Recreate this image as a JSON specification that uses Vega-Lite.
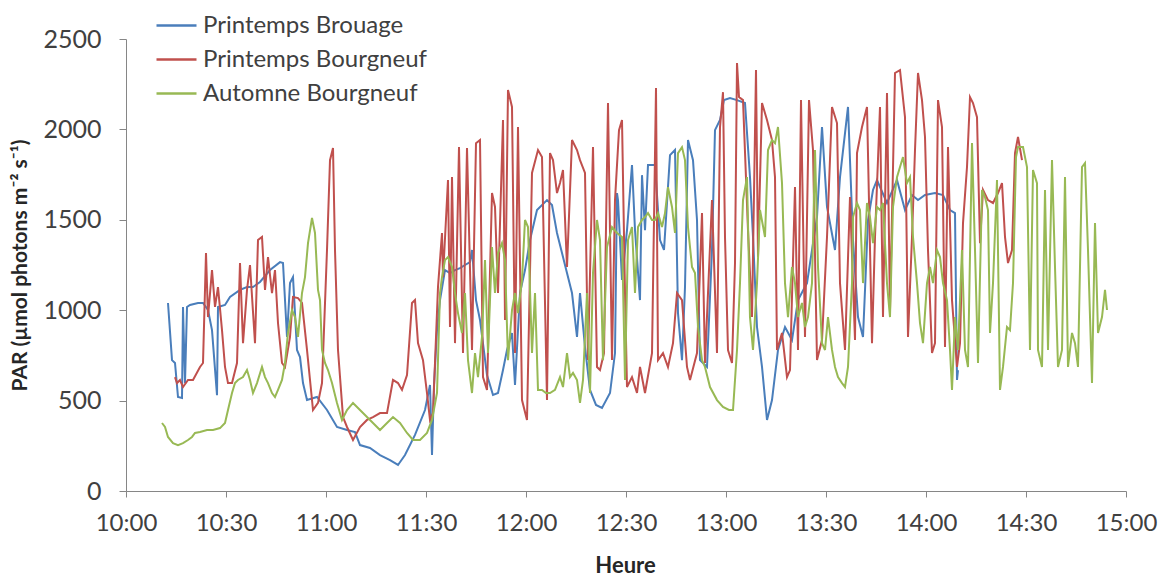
{
"$schema": "https://vega.github.io/schema/vega-lite/v6.json",
"width": 1000, "height": 452,
"autosize": {"type": "none"},
"padding": {"left": 126, "top": 39, "right": 35, "bottom": 86},
"background": "white",
"config": {"view": {"stroke": null}, "font": "Lato"},
"datasets": {
"brouage": [
{"min":12.6,"PAR":1040},{"min":13.8,"PAR":724},{"min":14.7,"PAR":708},{"min":15.6,"PAR":520},{"min":16.8,"PAR":514},{"min":17.1,"PAR":1018},{"min":17.7,"PAR":597},{"min":18.3,"PAR":1018},{"min":19.2,"PAR":1029},{"min":21.6,"PAR":1040},{"min":23.1,"PAR":1040},{"min":24.6,"PAR":1001},{"min":25.8,"PAR":890},{"min":27.3,"PAR":530},{"min":27.6,"PAR":1018},{"min":29.7,"PAR":1029},{"min":31.2,"PAR":1073},{"min":34.2,"PAR":1112},{"min":36.3,"PAR":1128},{"min":38.1,"PAR":1128},{"min":40.2,"PAR":1156},{"min":43.2,"PAR":1222},{"min":46.2,"PAR":1266},{"min":47.1,"PAR":1261},{"min":48.3,"PAR":852},{"min":49.2,"PAR":1150},{"min":50.1,"PAR":1183},{"min":51.3,"PAR":780},{"min":52.2,"PAR":741},{"min":53.1,"PAR":597},{"min":54.3,"PAR":503},{"min":57.3,"PAR":520},{"min":60.3,"PAR":448},{"min":63.3,"PAR":354},{"min":66.3,"PAR":337},{"min":68.7,"PAR":326},{"min":70.2,"PAR":254},{"min":73.2,"PAR":238},{"min":76.2,"PAR":199},{"min":79.2,"PAR":171},{"min":81.6,"PAR":144},{"min":83.7,"PAR":199},{"min":86.7,"PAR":310},{"min":89.7,"PAR":448},{"min":91.2,"PAR":586},{"min":91.8,"PAR":199},{"min":92.4,"PAR":586},{"min":93.3,"PAR":890},{"min":94.2,"PAR":1056},{"min":95.7,"PAR":1222},{"min":97.2,"PAR":1205},{"min":98.7,"PAR":1222},{"min":100.2,"PAR":1233},{"min":101.7,"PAR":1250},{"min":103.2,"PAR":1266},{"min":103.8,"PAR":1333},{"min":105,"PAR":1056},{"min":106.2,"PAR":946},{"min":108.3,"PAR":641},{"min":110.1,"PAR":531},{"min":111.6,"PAR":542},{"min":113.1,"PAR":669},{"min":114.3,"PAR":780},{"min":115.8,"PAR":874},{"min":116.7,"PAR":586},{"min":118.2,"PAR":1095},{"min":119.7,"PAR":1222},{"min":121.2,"PAR":1388},{"min":123.3,"PAR":1554},{"min":126.3,"PAR":1609},{"min":127.8,"PAR":1582},{"min":129.3,"PAR":1427},{"min":132.3,"PAR":1206},{"min":133.8,"PAR":1095},{"min":135.3,"PAR":852},{"min":136.2,"PAR":1095},{"min":137.7,"PAR":796},{"min":139.2,"PAR":559},{"min":141,"PAR":476},{"min":142.8,"PAR":459},{"min":145.2,"PAR":542},{"min":146.7,"PAR":763},{"min":147.3,"PAR":1648},{"min":147.6,"PAR":1609},{"min":148.8,"PAR":1167},{"min":150.3,"PAR":1443},{"min":151.8,"PAR":1803},{"min":152.7,"PAR":1443},{"min":154.2,"PAR":1056},{"min":154.8,"PAR":1747},{"min":155.7,"PAR":1443},{"min":156.6,"PAR":1803},{"min":158.7,"PAR":1803},{"min":160.2,"PAR":1388},{"min":161.4,"PAR":1333},{"min":163.2,"PAR":1858},{"min":164.7,"PAR":1886},{"min":165.6,"PAR":984},{"min":166.8,"PAR":724},{"min":167.7,"PAR":1128},{"min":168.6,"PAR":1941},{"min":170.1,"PAR":1830},{"min":171.3,"PAR":1499},{"min":172.2,"PAR":724},{"min":174.3,"PAR":686},{"min":175.8,"PAR":1333},{"min":176.7,"PAR":1996},{"min":178.2,"PAR":2052},{"min":179.4,"PAR":2162},{"min":181.2,"PAR":2173},{"min":183.3,"PAR":2162},{"min":185.7,"PAR":2146},{"min":187.2,"PAR":1736},{"min":188.1,"PAR":1405},{"min":189.3,"PAR":907},{"min":190.8,"PAR":686},{"min":192.3,"PAR":393},{"min":193.8,"PAR":503},{"min":195.6,"PAR":780},{"min":197.7,"PAR":907},{"min":199.8,"PAR":835},{"min":201.6,"PAR":1056},{"min":204.3,"PAR":1150},{"min":207.3,"PAR":1515},{"min":208.8,"PAR":2013},{"min":210.3,"PAR":1571},{"min":212.7,"PAR":1333},{"min":214.2,"PAR":1736},{"min":216.6,"PAR":2124},{"min":218.1,"PAR":1388},{"min":219.6,"PAR":962},{"min":221.1,"PAR":852},{"min":222.6,"PAR":1499},{"min":224.1,"PAR":1665},{"min":225.3,"PAR":1720},{"min":228.3,"PAR":1593},{"min":231.3,"PAR":1720},{"min":233.7,"PAR":1554},{"min":235.8,"PAR":1637},{"min":237.6,"PAR":1609},{"min":239.7,"PAR":1637},{"min":242.7,"PAR":1648},{"min":245.1,"PAR":1637},{"min":247.2,"PAR":1554},{"min":248.7,"PAR":1537},{"min":249.3,"PAR":614},{"min":249.6,"PAR":669}
],
"bourgneufPrintemps": [
{"min":14.7,"PAR":630},{"min":15.3,"PAR":597},{"min":16.2,"PAR":614},{"min":17.1,"PAR":575},{"min":18.6,"PAR":614},{"min":20.1,"PAR":614},{"min":22.2,"PAR":686},{"min":23.1,"PAR":708},{"min":24.0,"PAR":1316},{"min":24.6,"PAR":962},{"min":25.8,"PAR":1222},{"min":26.7,"PAR":1018},{"min":27.6,"PAR":1128},{"min":28.8,"PAR":890},{"min":29.7,"PAR":686},{"min":30.6,"PAR":597},{"min":31.8,"PAR":597},{"min":33.3,"PAR":708},{"min":34.2,"PAR":1261},{"min":35.1,"PAR":818},{"min":36.3,"PAR":1112},{"min":37.2,"PAR":1250},{"min":38.7,"PAR":818},{"min":39.6,"PAR":1388},{"min":40.8,"PAR":1405},{"min":41.7,"PAR":1112},{"min":42.6,"PAR":1294},{"min":43.8,"PAR":1095},{"min":44.7,"PAR":1222},{"min":45.6,"PAR":929},{"min":46.8,"PAR":708},{"min":47.7,"PAR":686},{"min":49.2,"PAR":852},{"min":50.1,"PAR":1073},{"min":51.6,"PAR":1067},{"min":52.8,"PAR":1040},{"min":54.3,"PAR":780},{"min":56.1,"PAR":448},{"min":57.6,"PAR":487},{"min":58.8,"PAR":597},{"min":60.3,"PAR":1333},{"min":61.2,"PAR":1830},{"min":62.1,"PAR":1897},{"min":62.7,"PAR":1333},{"min":63.6,"PAR":780},{"min":65.1,"PAR":409},{"min":66.3,"PAR":354},{"min":68.1,"PAR":282},{"min":70.2,"PAR":354},{"min":72.3,"PAR":393},{"min":74.1,"PAR":409},{"min":76.2,"PAR":431},{"min":78.3,"PAR":431},{"min":80.1,"PAR":614},{"min":81.6,"PAR":597},{"min":82.8,"PAR":559},{"min":84.3,"PAR":641},{"min":85.8,"PAR":1040},{"min":86.7,"PAR":1056},{"min":87.6,"PAR":818},{"min":89.1,"PAR":724},{"min":90.3,"PAR":542},{"min":91.2,"PAR":393},{"min":92.1,"PAR":431},{"min":93.6,"PAR":1128},{"min":94.8,"PAR":1427},{"min":95.1,"PAR":1183},{"min":96.6,"PAR":1720},{"min":97.2,"PAR":907},{"min":97.8,"PAR":1736},{"min":98.7,"PAR":818},{"min":99.9,"PAR":1902},{"min":101.1,"PAR":763},{"min":102.3,"PAR":1897},{"min":103.8,"PAR":780},{"min":105.0,"PAR":1924},{"min":106.2,"PAR":1941},{"min":107.1,"PAR":630},{"min":108.3,"PAR":559},{"min":109.8,"PAR":1648},{"min":110.7,"PAR":1571},{"min":111.6,"PAR":1095},{"min":113.1,"PAR":2052},{"min":113.7,"PAR":946},{"min":114.6,"PAR":2218},{"min":115.8,"PAR":2124},{"min":116.7,"PAR":763},{"min":117.6,"PAR":2013},{"min":118.8,"PAR":503},{"min":120.3,"PAR":393},{"min":121.8,"PAR":1759},{"min":123.6,"PAR":1886},{"min":124.8,"PAR":1847},{"min":126.3,"PAR":503},{"min":127.2,"PAR":1869},{"min":128.1,"PAR":1830},{"min":129.3,"PAR":1648},{"min":130.2,"PAR":1703},{"min":131.1,"PAR":1775},{"min":132.3,"PAR":1239},{"min":133.8,"PAR":1941},{"min":135.3,"PAR":1886},{"min":136.2,"PAR":1830},{"min":137.7,"PAR":1759},{"min":138.6,"PAR":724},{"min":140.1,"PAR":1902},{"min":141.3,"PAR":686},{"min":142.2,"PAR":669},{"min":143.4,"PAR":763},{"min":144.6,"PAR":2146},{"min":145.8,"PAR":724},{"min":146.7,"PAR":1609},{"min":147.9,"PAR":1996},{"min":148.8,"PAR":2052},{"min":149.7,"PAR":1095},{"min":150.3,"PAR":575},{"min":151.8,"PAR":630},{"min":153.3,"PAR":542},{"min":154.2,"PAR":686},{"min":155.7,"PAR":542},{"min":157.8,"PAR":763},{"min":159.0,"PAR":2229},{"min":159.6,"PAR":724},{"min":161.1,"PAR":763},{"min":162.6,"PAR":686},{"min":164.1,"PAR":818},{"min":165.3,"PAR":1095},{"min":166.8,"PAR":1056},{"min":168.3,"PAR":686},{"min":169.2,"PAR":614},{"min":171.3,"PAR":763},{"min":172.8,"PAR":1537},{"min":173.7,"PAR":708},{"min":175.8,"PAR":1609},{"min":177.3,"PAR":763},{"min":178.2,"PAR":2013},{"min":179.1,"PAR":2206},{"min":179.7,"PAR":1405},{"min":180.6,"PAR":780},{"min":181.8,"PAR":708},{"min":182.7,"PAR":1261},{"min":183.3,"PAR":2367},{"min":183.9,"PAR":2179},{"min":185.1,"PAR":2162},{"min":186.6,"PAR":1443},{"min":187.8,"PAR":962},{"min":189.0,"PAR":2328},{"min":189.6,"PAR":1294},{"min":190.8,"PAR":2146},{"min":192.3,"PAR":2052},{"min":193.8,"PAR":1941},{"min":194.7,"PAR":1736},{"min":195.3,"PAR":780},{"min":196.8,"PAR":874},{"min":198.3,"PAR":630},{"min":199.2,"PAR":669},{"min":200.7,"PAR":1681},{"min":201.6,"PAR":780},{"min":202.5,"PAR":2162},{"min":203.7,"PAR":852},{"min":204.9,"PAR":2162},{"min":206.1,"PAR":1886},{"min":207.3,"PAR":724},{"min":208.8,"PAR":835},{"min":210.3,"PAR":1405},{"min":211.8,"PAR":2124},{"min":213.3,"PAR":2035},{"min":214.2,"PAR":1150},{"min":215.7,"PAR":780},{"min":217.2,"PAR":1626},{"min":218.7,"PAR":835},{"min":219.3,"PAR":1869},{"min":220.8,"PAR":2013},{"min":222.3,"PAR":2124},{"min":223.8,"PAR":818},{"min":224.7,"PAR":1405},{"min":226.2,"PAR":2124},{"min":227.1,"PAR":962},{"min":228.3,"PAR":2201},{"min":229.2,"PAR":1001},{"min":230.7,"PAR":2312},{"min":232.2,"PAR":2328},{"min":233.7,"PAR":2068},{"min":234.6,"PAR":852},{"min":235.8,"PAR":1405},{"min":236.7,"PAR":1886},{"min":237.6,"PAR":2312},{"min":238.8,"PAR":2162},{"min":239.7,"PAR":1958},{"min":240.6,"PAR":1333},{"min":241.8,"PAR":763},{"min":242.7,"PAR":818},{"min":243.6,"PAR":2162},{"min":244.8,"PAR":2013},{"min":245.7,"PAR":796},{"min":246.6,"PAR":1902},{"min":247.8,"PAR":1056},{"min":249.3,"PAR":686},{"min":250.2,"PAR":818},{"min":251.1,"PAR":1482},{"min":252.3,"PAR":1792},{"min":253.2,"PAR":2179},{"min":254.1,"PAR":2146},{"min":255.3,"PAR":2068},{"min":256.2,"PAR":1371},{"min":257.1,"PAR":1665},{"min":258.6,"PAR":1609},{"min":260.1,"PAR":1593},{"min":261.6,"PAR":1648},{"min":262.8,"PAR":1703},{"min":263.7,"PAR":1405},{"min":264.6,"PAR":1261},{"min":265.8,"PAR":1333},{"min":266.7,"PAR":1869},{"min":267.6,"PAR":1958},{"min":268.8,"PAR":1830}
],
"bourgneufAutomne": [
{"min":10.8,"PAR":376},{"min":11.7,"PAR":354},{"min":12.6,"PAR":299},{"min":14.1,"PAR":265},{"min":15.6,"PAR":254},{"min":17.1,"PAR":265},{"min":18.6,"PAR":282},{"min":19.8,"PAR":299},{"min":20.7,"PAR":321},{"min":22.2,"PAR":326},{"min":24.3,"PAR":337},{"min":26.1,"PAR":337},{"min":28.2,"PAR":348},{"min":29.7,"PAR":376},{"min":30.6,"PAR":448},{"min":31.8,"PAR":542},{"min":32.7,"PAR":597},{"min":33.6,"PAR":614},{"min":35.1,"PAR":630},{"min":36.3,"PAR":669},{"min":37.2,"PAR":614},{"min":38.1,"PAR":542},{"min":39.3,"PAR":597},{"min":40.8,"PAR":686},{"min":41.7,"PAR":630},{"min":42.6,"PAR":597},{"min":43.8,"PAR":542},{"min":44.7,"PAR":520},{"min":45.6,"PAR":559},{"min":46.8,"PAR":614},{"min":47.7,"PAR":708},{"min":48.6,"PAR":874},{"min":49.8,"PAR":1001},{"min":50.7,"PAR":962},{"min":51.6,"PAR":852},{"min":52.8,"PAR":1095},{"min":53.7,"PAR":1183},{"min":54.6,"PAR":1371},{"min":55.8,"PAR":1510},{"min":56.7,"PAR":1427},{"min":57.6,"PAR":1112},{"min":58.2,"PAR":1056},{"min":58.8,"PAR":780},{"min":59.7,"PAR":708},{"min":60.6,"PAR":669},{"min":61.8,"PAR":597},{"min":63.3,"PAR":487},{"min":64.8,"PAR":393},{"min":66.3,"PAR":448},{"min":68.1,"PAR":487},{"min":70.2,"PAR":448},{"min":72.3,"PAR":409},{"min":74.1,"PAR":376},{"min":76.2,"PAR":337},{"min":78.3,"PAR":376},{"min":80.1,"PAR":409},{"min":82.2,"PAR":376},{"min":84.3,"PAR":321},{"min":86.1,"PAR":282},{"min":88.2,"PAR":282},{"min":90.3,"PAR":321},{"min":91.8,"PAR":393},{"min":93.3,"PAR":542},{"min":94.2,"PAR":1095},{"min":94.8,"PAR":1183},{"min":95.7,"PAR":1277},{"min":96.6,"PAR":1294},{"min":97.8,"PAR":1239},{"min":98.7,"PAR":1095},{"min":99.6,"PAR":984},{"min":100.8,"PAR":874},{"min":101.7,"PAR":1095},{"min":102.6,"PAR":724},{"min":103.8,"PAR":542},{"min":104.7,"PAR":763},{"min":105.6,"PAR":630},{"min":106.8,"PAR":852},{"min":107.7,"PAR":1277},{"min":108.6,"PAR":763},{"min":109.8,"PAR":1349},{"min":110.7,"PAR":1095},{"min":111.6,"PAR":1316},{"min":112.8,"PAR":1371},{"min":113.7,"PAR":1277},{"min":114.6,"PAR":724},{"min":115.8,"PAR":1001},{"min":116.7,"PAR":1095},{"min":117.6,"PAR":984},{"min":118.8,"PAR":1167},{"min":119.7,"PAR":1499},{"min":120.6,"PAR":1460},{"min":121.8,"PAR":763},{"min":122.7,"PAR":1095},{"min":123.6,"PAR":559},{"min":124.8,"PAR":559},{"min":126.0,"PAR":542},{"min":127.2,"PAR":542},{"min":128.7,"PAR":559},{"min":130.2,"PAR":630},{"min":131.1,"PAR":575},{"min":132.3,"PAR":763},{"min":133.2,"PAR":630},{"min":134.1,"PAR":653},{"min":135.3,"PAR":614},{"min":136.2,"PAR":487},{"min":137.1,"PAR":614},{"min":138.3,"PAR":1095},{"min":139.2,"PAR":542},{"min":140.1,"PAR":1206},{"min":141.3,"PAR":1499},{"min":142.2,"PAR":1388},{"min":143.1,"PAR":724},{"min":144.3,"PAR":1349},{"min":145.8,"PAR":1460},{"min":147.3,"PAR":1427},{"min":148.8,"PAR":1405},{"min":149.7,"PAR":614},{"min":150.6,"PAR":1388},{"min":151.8,"PAR":1460},{"min":152.7,"PAR":1095},{"min":153.6,"PAR":1460},{"min":154.8,"PAR":1499},{"min":155.7,"PAR":1515},{"min":156.6,"PAR":1537},{"min":157.8,"PAR":1499},{"min":158.7,"PAR":1499},{"min":159.6,"PAR":1537},{"min":160.8,"PAR":1460},{"min":161.7,"PAR":1537},{"min":162.6,"PAR":1681},{"min":163.8,"PAR":1571},{"min":164.7,"PAR":1427},{"min":165.6,"PAR":1869},{"min":166.8,"PAR":1902},{"min":167.7,"PAR":1830},{"min":168.6,"PAR":1460},{"min":169.8,"PAR":1239},{"min":170.7,"PAR":1206},{"min":171.6,"PAR":907},{"min":172.8,"PAR":724},{"min":173.7,"PAR":686},{"min":175.2,"PAR":575},{"min":177.3,"PAR":503},{"min":179.1,"PAR":465},{"min":180.9,"PAR":448},{"min":182.1,"PAR":448},{"min":183.3,"PAR":780},{"min":184.2,"PAR":1150},{"min":185.1,"PAR":1609},{"min":186.3,"PAR":1736},{"min":187.2,"PAR":962},{"min":188.1,"PAR":780},{"min":189.3,"PAR":1150},{"min":190.2,"PAR":1554},{"min":191.7,"PAR":1405},{"min":192.6,"PAR":1886},{"min":193.8,"PAR":1941},{"min":194.7,"PAR":1924},{"min":195.6,"PAR":2013},{"min":196.8,"PAR":1703},{"min":197.7,"PAR":1150},{"min":198.6,"PAR":962},{"min":199.8,"PAR":1239},{"min":200.7,"PAR":1150},{"min":201.6,"PAR":962},{"min":202.8,"PAR":1040},{"min":203.7,"PAR":907},{"min":204.6,"PAR":962},{"min":205.8,"PAR":1150},{"min":206.7,"PAR":1886},{"min":207.6,"PAR":1239},{"min":208.8,"PAR":818},{"min":209.7,"PAR":780},{"min":210.6,"PAR":962},{"min":211.8,"PAR":780},{"min":212.7,"PAR":686},{"min":213.6,"PAR":630},{"min":214.8,"PAR":597},{"min":215.7,"PAR":575},{"min":216.6,"PAR":686},{"min":217.8,"PAR":1150},{"min":218.1,"PAR":1515},{"min":219.3,"PAR":1593},{"min":220.2,"PAR":1554},{"min":221.1,"PAR":1150},{"min":222.3,"PAR":1593},{"min":223.2,"PAR":1515},{"min":224.1,"PAR":1371},{"min":225.3,"PAR":1571},{"min":226.2,"PAR":1554},{"min":227.1,"PAR":1593},{"min":228.3,"PAR":1150},{"min":229.2,"PAR":962},{"min":230.1,"PAR":1571},{"min":231.3,"PAR":1736},{"min":232.2,"PAR":1792},{"min":233.1,"PAR":1847},{"min":234.3,"PAR":1703},{"min":235.2,"PAR":1736},{"min":236.1,"PAR":1405},{"min":237.3,"PAR":1150},{"min":238.2,"PAR":929},{"min":239.1,"PAR":818},{"min":240.3,"PAR":1150},{"min":241.2,"PAR":1239},{"min":242.1,"PAR":1150},{"min":243.3,"PAR":1333},{"min":244.2,"PAR":1294},{"min":245.1,"PAR":1150},{"min":246.3,"PAR":1056},{"min":247.2,"PAR":780},{"min":247.8,"PAR":559},{"min":248.7,"PAR":962},{"min":249.6,"PAR":780},{"min":250.8,"PAR":1333},{"min":251.7,"PAR":780},{"min":252.6,"PAR":686},{"min":253.8,"PAR":1924},{"min":254.7,"PAR":1333},{"min":255.6,"PAR":708},{"min":256.8,"PAR":1665},{"min":257.7,"PAR":1626},{"min":258.6,"PAR":1554},{"min":259.2,"PAR":874},{"min":260.1,"PAR":1150},{"min":261.3,"PAR":1720},{"min":262.2,"PAR":559},{"min":263.1,"PAR":686},{"min":264.3,"PAR":907},{"min":265.2,"PAR":890},{"min":266.1,"PAR":1150},{"min":267.0,"PAR":1847},{"min":267.6,"PAR":1902},{"min":269.1,"PAR":1902},{"min":270.3,"PAR":1792},{"min":271.2,"PAR":780},{"min":272.1,"PAR":1775},{"min":273.3,"PAR":1703},{"min":273.6,"PAR":780},{"min":274.8,"PAR":686},{"min":275.7,"PAR":1665},{"min":276.6,"PAR":780},{"min":277.8,"PAR":1830},{"min":278.7,"PAR":1239},{"min":279.6,"PAR":686},{"min":280.8,"PAR":780},{"min":281.7,"PAR":1736},{"min":282.6,"PAR":686},{"min":283.8,"PAR":874},{"min":284.7,"PAR":818},{"min":285.6,"PAR":686},{"min":286.8,"PAR":1792},{"min":287.7,"PAR":1814},{"min":288.6,"PAR":1333},{"min":289.8,"PAR":597},{"min":290.7,"PAR":1482},{"min":291.6,"PAR":874},{"min":292.8,"PAR":962},{"min":293.7,"PAR":1112},{"min":294.3,"PAR":1001}
]
},
"encoding": {
"x": {"field": "min", "type": "quantitative", "scale": {"domain": [0, 300], "nice": false, "zero": false},
 "axis": {"values": [0,30,60,90,120,150,180,210,240,270,300], "labelExpr": "(10 + floor(datum.value / 60)) + ':' + (datum.value % 60 == 0 ? '00' : '30')", "labelFlush": false, "labelOverlap": false, "title": "Heure", "grid": false, "domainColor": "#868686", "tickColor": "#868686", "tickSize": 6, "labelFontSize": 24, "labelColor": "#404040", "labelPadding": 14, "titleFontSize": 22, "titleFontWeight": "bold", "titleColor": "#262626", "titleX": 499, "titleY": 74, "titleBaseline": "middle", "titleAlign": "center"}},
"y": {"field": "PAR", "type": "quantitative", "scale": {"domain": [0, 2500], "nice": false},
 "axis": {"values": [0,500,1000,1500,2000,2500], "format": "d", "labelFlush": false, "labelOverlap": false, "title": "PAR (µmol photons m⁻² s⁻¹)", "grid": false, "domainColor": "#868686", "tickColor": "#868686", "tickSize": 7, "labelFontSize": 25, "labelColor": "#404040", "labelPadding": 18, "titleFontSize": 21, "titleFontWeight": "bold", "titleColor": "#262626", "titleX": -106, "titleY": 226, "titleAngle": -90, "titleBaseline": "middle", "titleAlign": "center"}}
},
"layer": [
{"data": {"name": "brouage"}, "mark": {"type": "line", "strokeWidth": 2, "interpolate": "linear"},
 "encoding": {"color": {"datum": "Printemps Brouage", "type": "nominal",
  "scale": {"domain": ["Printemps Brouage", "Printemps Bourgneuf", "Automne Bourgneuf"], "range": ["#4A7EBB", "#C0504D", "#98B954"]},
  "legend": {"title": null, "orient": "none", "legendX": 29, "legendY": -35, "direction": "vertical", "symbolType": "stroke", "symbolSize": 1600, "symbolStrokeWidth": 2.5, "labelFontSize": 24, "labelLimit": 400, "labelColor": "#404040", "labelOffset": 5, "rowPadding": 0}}}},
{"data": {"name": "bourgneufPrintemps"}, "mark": {"type": "line", "strokeWidth": 2},
 "encoding": {"color": {"datum": "Printemps Bourgneuf", "type": "nominal"}}},
{"data": {"name": "bourgneufAutomne"}, "mark": {"type": "line", "strokeWidth": 2},
 "encoding": {"color": {"datum": "Automne Bourgneuf", "type": "nominal"}}}
]
}
